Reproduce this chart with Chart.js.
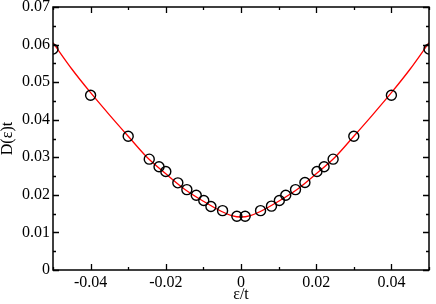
<!DOCTYPE html>
<html>
<head>
<meta charset="utf-8">
<script src="https://cdn.jsdelivr.net/npm/chart.js@4.4.1/dist/chart.umd.min.js"></script>
<style>
  body { margin: 0; background: #fff; }
  canvas { display: block; }
</style>
</head>
<body>
<canvas id="myChart" width="436" height="304"></canvas>
<script>
// energies eps/t of the computed points
const epsPoints = [-0.05, -0.04, -0.03, -0.0244, -0.0218, -0.02, -0.0168, -0.0144, -0.0119, -0.0099, -0.008, -0.0049, -0.0011,
  0.0011, 0.0052, 0.0081, 0.0102, 0.0119, 0.0145, 0.017, 0.0202, 0.0221, 0.0245, 0.03, 0.04, 0.05];
const dosPoints = [0.0588, 0.0465, 0.0356, 0.0295, 0.0275, 0.0262, 0.0232, 0.0214, 0.0199, 0.0185, 0.0169, 0.0158, 0.0143,
  0.0143, 0.0158, 0.017, 0.0185, 0.0199, 0.0214, 0.0233, 0.0262, 0.0275, 0.0295, 0.0356, 0.0465, 0.0588];

// red fit curve
const epsCurve = [-0.05, -0.045, -0.04, -0.035, -0.03, -0.025, -0.02, -0.015, -0.01, -0.005, -0.0025, 0,
  0.0025, 0.005, 0.01, 0.015, 0.02, 0.025, 0.03, 0.035, 0.04, 0.045, 0.05];
const dosCurve = [0.0605, 0.0535, 0.0472, 0.0413, 0.0356, 0.0300, 0.0256, 0.0215, 0.0183, 0.0155, 0.0145, 0.0141,
  0.0145, 0.0155, 0.0183, 0.0215, 0.0256, 0.0300, 0.0356, 0.0413, 0.0472, 0.0535, 0.0605];

const xTickLabels = ['-0.04', '-0.02', '0', '0.02', '0.04'];
const yTickLabels = ['0', '0.01', '0.02', '0.03', '0.04', '0.05', '0.06', '0.07'];

const serif = 'Liberation Serif';

// frame + inward ticks on all four sides
const frameTicks = {
  id: 'frameTicks',
  afterDatasetsDraw(chart) {
    const {ctx, chartArea: a, scales} = chart;
    ctx.save();
    ctx.strokeStyle = '#000';
    ctx.lineWidth = 1.5;
    ctx.strokeRect(a.left, a.top, a.right - a.left, a.bottom - a.top);
    ctx.lineWidth = 1.3;
    ctx.beginPath();
    scales.x.ticks.forEach(t => {
      const px = Math.round(scales.x.getPixelForValue(t.value)) + 0.5;
      const len = t.label ? 6 : 3;
      ctx.moveTo(px, a.bottom); ctx.lineTo(px, a.bottom - len);
      ctx.moveTo(px, a.top); ctx.lineTo(px, a.top + len);
    });
    scales.y.ticks.forEach(t => {
      const py = Math.round(scales.y.getPixelForValue(t.value)) + 0.5;
      const len = t.label ? 6 : 3;
      ctx.moveTo(a.left, py); ctx.lineTo(a.left + len, py);
      ctx.moveTo(a.right, py); ctx.lineTo(a.right - len, py);
    });
    ctx.stroke();
    ctx.restore();
  }
};

// only label the values that appear in the list, blank for minor ticks
function labelFor(v, list) {
  const r = Math.round(v * 100);
  if (Math.abs(v * 100 - r) > 1e-6) return '';
  const s = r === 0 ? '0' : (r / 100).toFixed(2);
  return list.includes(s) ? s : '';
}

const config = {
  type: 'scatter',
  data: {
    datasets: [{
      type: 'line',
      label: 'fit',
      data: epsCurve.map((x, i) => ({x: x, y: dosCurve[i]})),
      borderColor: '#ff0000',
      borderWidth: 1.3,
      pointRadius: 0,
      cubicInterpolationMode: 'monotone',
      fill: false,
      order: 2
    }, {
      label: 'points',
      data: epsPoints.map((x, i) => ({x: x, y: dosPoints[i]})),
      pointStyle: 'circle',
      pointRadius: 5,
      pointBorderWidth: 1.4,
      pointBorderColor: '#000',
      pointBackgroundColor: 'rgba(0,0,0,0)',
      showLine: false,
      order: 1
    }]
  },
  options: {
    responsive: false,
    animation: false,
    layout: { padding: { top: 7, right: 7, left: 0, bottom: 0 } },
    plugins: { legend: { display: false }, tooltip: { enabled: false } },
    scales: {
      x: {
        type: 'linear',
        min: -0.05, max: 0.05,
        grid: { display: false, drawTicks: false },
        border: { display: false },
        ticks: {
          stepSize: 0.01,
          padding: 3,
          maxRotation: 0,
          autoSkip: false,
          color: '#000',
          font: { family: serif, size: 16 },
          callback: v => labelFor(v, xTickLabels)
        },
        title: {
          display: true, text: 'ε/t', color: '#000',
          font: { family: serif, size: 16 }, padding: { top: 0, bottom: 0 }
        },
        afterFit: s => { s.height = 34; s.paddingLeft = 0; s.paddingRight = 0; }
      },
      y: {
        type: 'linear',
        min: 0, max: 0.07,
        grid: { display: false, drawTicks: false },
        border: { display: false },
        ticks: {
          stepSize: 0.005,
          padding: 3,
          autoSkip: false,
          color: '#000',
          font: { family: serif, size: 16 },
          callback: v => labelFor(v, yTickLabels)
        },
        title: {
          display: true, text: 'D(ε)t', color: '#000',
          font: { family: serif, size: 16 }, padding: { top: -2, bottom: 0 }
        },
        afterFit: s => { s.width = 53; s.paddingTop = 0; s.paddingBottom = 0; }
      }
    }
  },
  plugins: [frameTicks]
};

new Chart(document.getElementById('myChart'), config);
</script>
</body>
</html>
